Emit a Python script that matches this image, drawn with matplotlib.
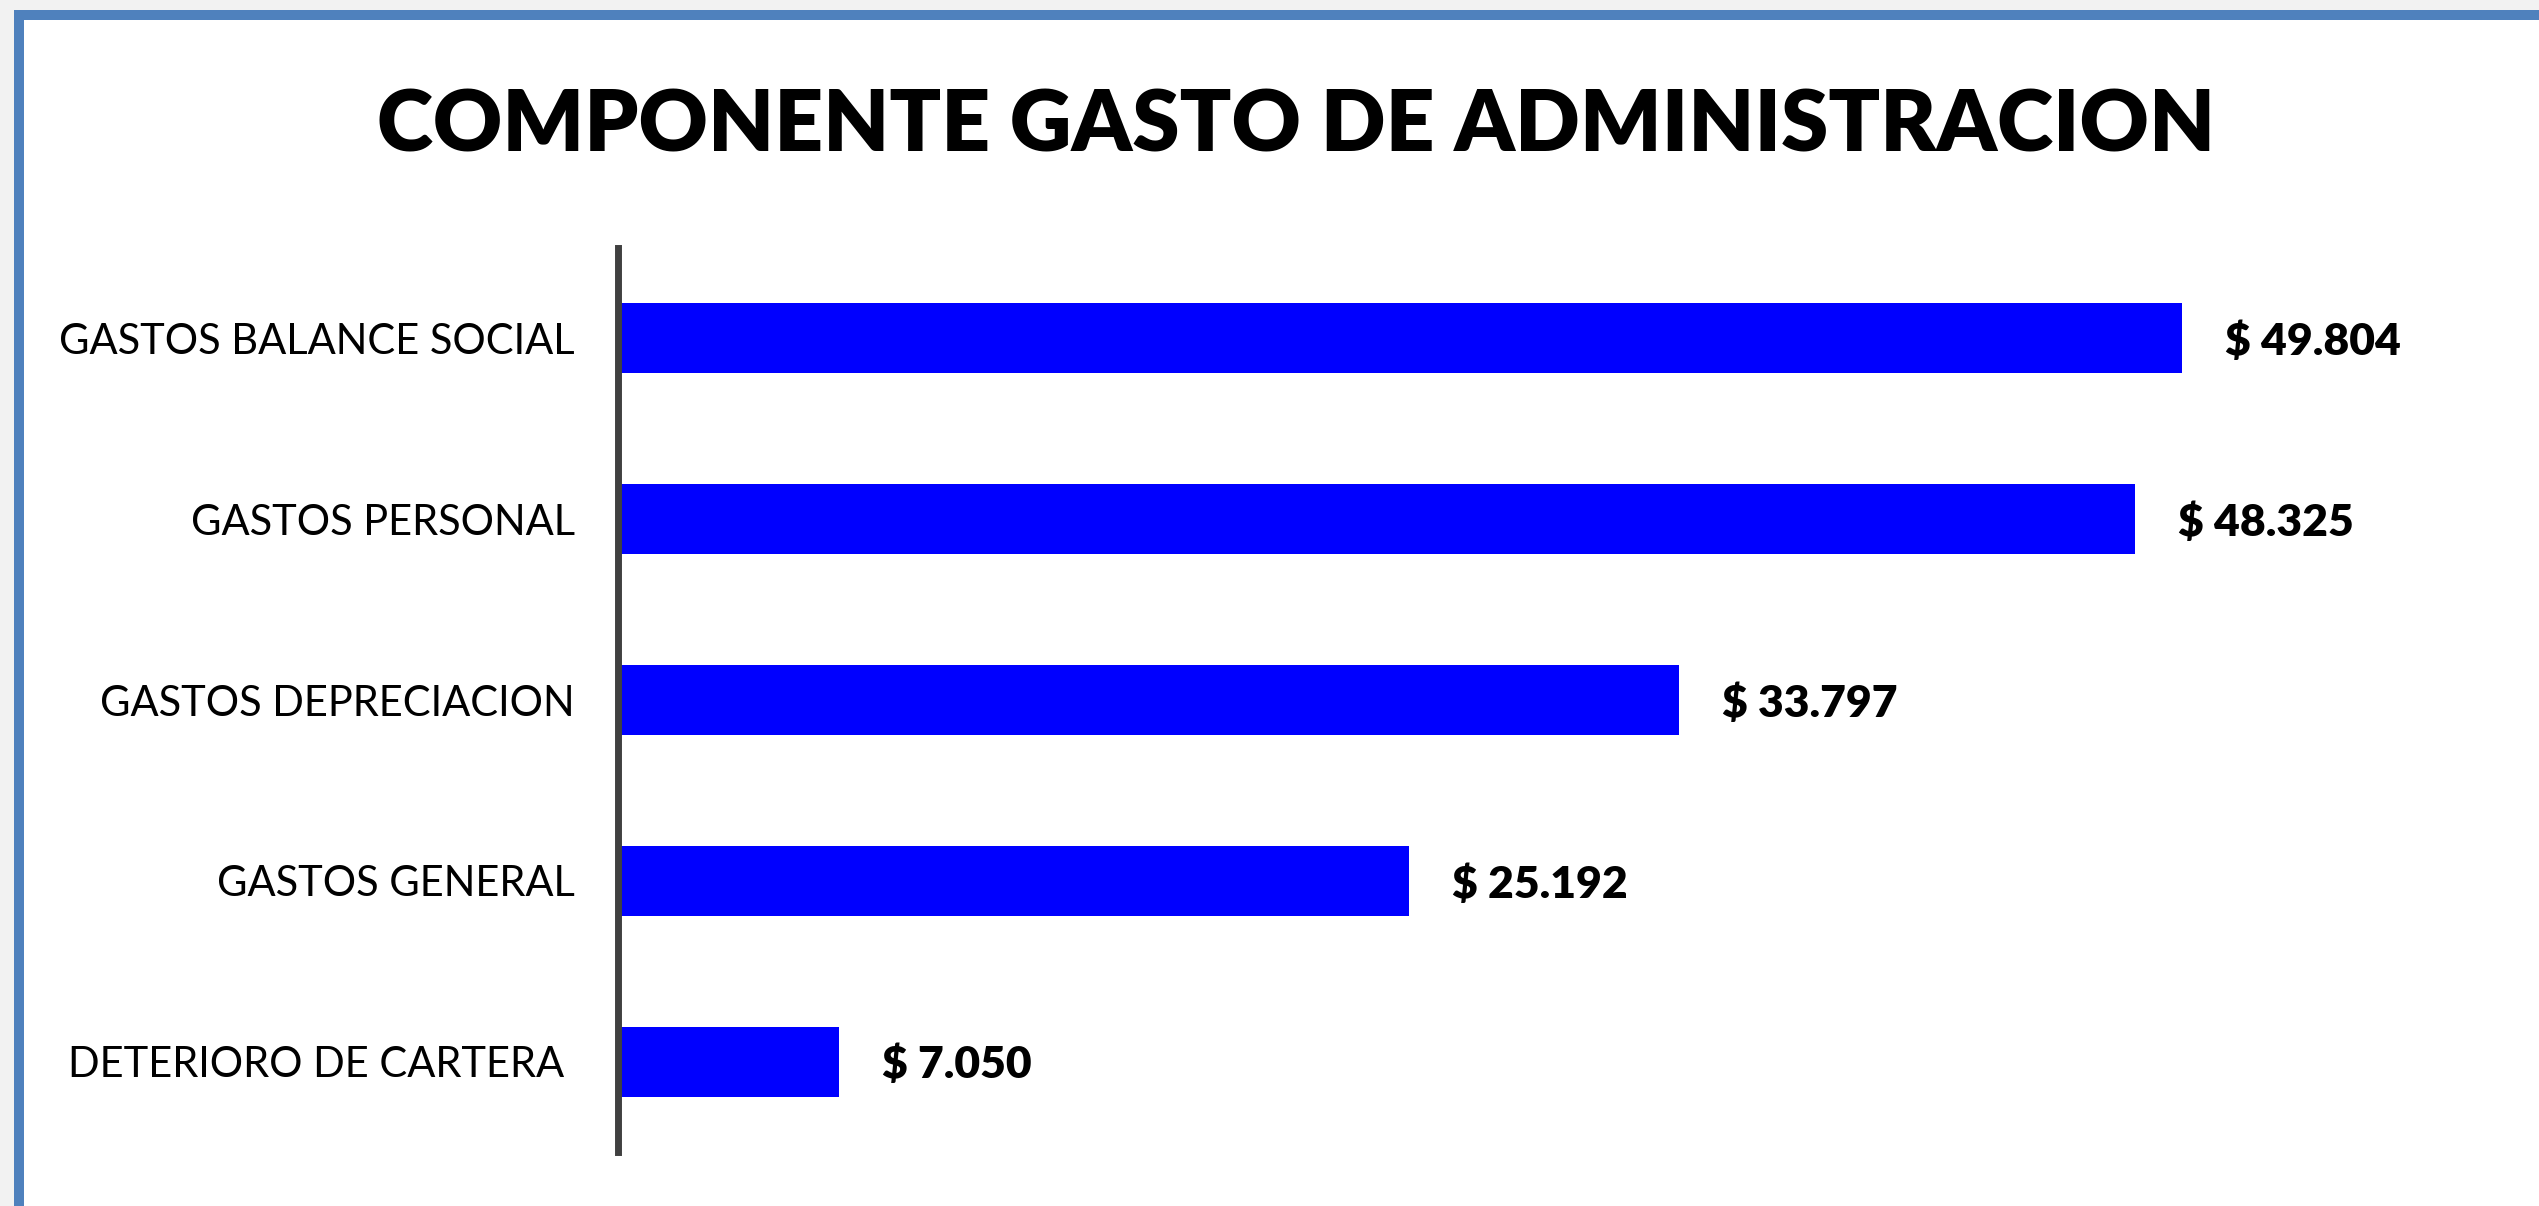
import matplotlib
matplotlib.use("Agg")
import matplotlib.pyplot as plt
from matplotlib.patches import Rectangle

categories = ["GASTOS BALANCE SOCIAL", "GASTOS PERSONAL", "GASTOS DEPRECIACION",
              "GASTOS GENERAL", "DETERIORO DE CARTERA "]
values = [49804, 48325, 33797, 25192, 7050]
value_labels = ["$ 49.804", "$ 48.325", "$ 33.797", "$ 25.192", "$ 7.050"]
title = "COMPONENTE GASTO DE ADMINISTRACION"

W, H = 2539, 1206
fig = plt.figure(figsize=(W / 100, H / 100), dpi=100, facecolor="#f2f2f2")

# white chart area with blue frame (left and top visible)
frame = Rectangle((19 / W, -0.2), 1.5, 1.2 - 15 / H, transform=fig.transFigure,
                  facecolor="white", edgecolor="#4f81bd", linewidth=7.2, zorder=-10)
fig.patches.append(frame)

ax = fig.add_axes([618 / W, 54 / H, 1884 / W, 904 / H])
ax.set_zorder(5)
ax.set_facecolor("none")
ypos = list(range(len(categories)))
ax.barh(ypos, values, height=0.387, color="#0000ff", edgecolor="none", zorder=2)
ax.set_xlim(0, 60000)
ax.set_ylim(len(categories) - 0.5, -0.5)
ax.set_yticks(ypos)
ax.set_yticklabels(categories, fontfamily="Lato", fontsize=30, color="black")
ax.tick_params(axis="y", length=0, pad=31)
ax.set_xticks([])
for s in ["top", "right", "bottom"]:
    ax.spines[s].set_visible(False)
ax.spines["left"].set_linewidth(5)
ax.spines["left"].set_color("#404040")
ax.spines["left"].set_zorder(3)

for y, v, lab in zip(ypos, values, value_labels):
    ax.annotate(lab, xy=(v, y), xytext=(31, 0), textcoords="offset points",
                va="center_baseline", ha="left", fontfamily="Lato", fontweight="heavy",
                fontsize=32, color="black")

fig.text(1296 / W, 1 - 152 / H, title, ha="center", va="baseline",
         fontfamily="Lato", fontweight="heavy", fontsize=61.5, color="black")

fig.savefig("out.png", dpi=100, facecolor=fig.get_facecolor())
